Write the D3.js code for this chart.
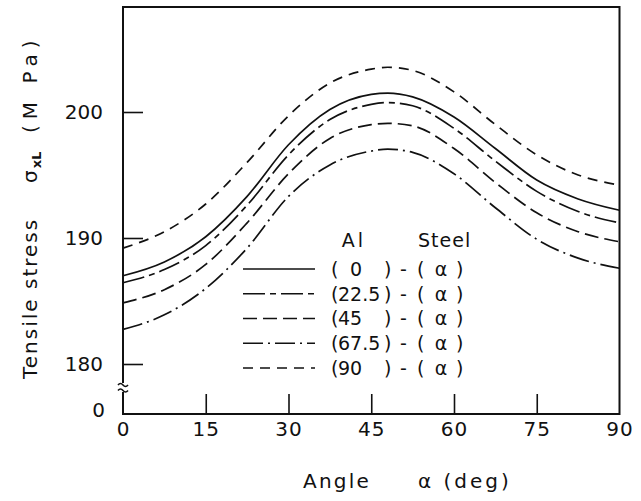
<!DOCTYPE html>
<html>
<head>
<meta charset="utf-8">
<script src="https://cdn.jsdelivr.net/npm/d3@7"></script>
<style>
  html, body { margin: 0; padding: 0; background: #fff; }
  svg { display: block; }
  text { font-family: "DejaVu Sans", sans-serif; fill: #111; }
</style>
</head>
<body>
<svg id="chart" width="641" height="501"></svg>
<script>
// Angle of the steel layer (deg)
const alpha = [0, 7.5, 15, 22.5, 30, 37.5, 45, 48, 52.5, 60, 67.5, 75, 82.5, 90];

// Tensile stress σxL (MPa) for each Al fibre angle
const al0    = [187.0, 188.1, 190.1, 193.3, 197.4, 200.2, 201.4, 201.5, 201.2, 199.6, 197.1, 194.6, 193.1, 192.2];
const al22_5 = [186.45, 187.5, 189.4, 192.6, 196.6, 199.4, 200.6, 200.75, 200.5, 198.7, 196.1, 193.7, 192.1, 191.2];
const al45   = [184.85, 185.9, 187.9, 191.2, 195.1, 197.9, 199.0, 199.1, 198.9, 197.1, 194.4, 192.0, 190.5, 189.7];
const al67_5 = [182.75, 183.9, 186.0, 189.2, 193.3, 195.8, 196.9, 197.05, 196.8, 195.1, 192.4, 189.9, 188.4, 187.6];
const al90   = [189.2, 190.5, 192.7, 196.0, 199.7, 202.3, 203.4, 203.55, 203.3, 201.6, 199.0, 196.6, 195.0, 194.2];

const seriesNames = ["0", "22.5", "45", "67.5", "90"];
const seriesValues = [al0, al22_5, al45, al67_5, al90];
const dashes = ["none", "22,5,6,5", "14,6", "20,5,2,5", "10,7"];

const xTicks = [0, 15, 30, 45, 60, 75, 90];
const yTicks = [180, 190, 200];

const svg = d3.select("#chart");

const x = d3.scaleLinear().domain([0, 90]).range([123, 619.5]);
const y = d3.scaleLinear().domain([180, 200]).range([364, 112]);

const plotTop = 7, plotBottom = 414;
const plotLeft = x(0), plotRight = x(90);

// Frame with a broken left axis between 180 and 0
const frame = svg.append("g").attr("fill", "none").attr("stroke", "#111").attr("stroke-width", 2);
frame.append("path").attr("d", `M${plotLeft},383 V${plotTop} H${plotRight} V${plotBottom} H${plotLeft} V392`);
// break symbol
frame.append("path").attr("stroke-width", 1.6)
  .attr("d", `M${plotLeft - 5},385 q2.5,-3 5,0 t5,0 M${plotLeft - 5},390.5 q2.5,-3 5,0 t5,0`);

// Axes: inward ticks
const xAxis = d3.axisBottom(x).tickValues(xTicks).tickSize(-20).tickPadding(8).tickFormat(d3.format("d"));
const gx = svg.append("g").attr("transform", `translate(0,${plotBottom})`).call(xAxis);
gx.select(".domain").remove();
gx.selectAll(".tick line").attr("stroke", "#111").attr("stroke-width", 1.6)
  .filter(d => d === 0 || d === 90).remove();
gx.selectAll(".tick text").attr("font-size", 20).attr("font-family", "DejaVu Sans").attr("fill", "#111")
  .attr("letter-spacing", 1);

const yAxis = d3.axisLeft(y).tickValues(yTicks).tickSize(-20).tickPadding(20);
const gy = svg.append("g").attr("transform", `translate(${plotLeft},0)`).call(yAxis);
gy.select(".domain").remove();
gy.selectAll(".tick line").attr("stroke", "#111").attr("stroke-width", 1.6);
gy.selectAll(".tick text").attr("font-size", 20).attr("font-family", "DejaVu Sans").attr("fill", "#111");

// origin of the broken axis
svg.append("text").attr("x", plotLeft - 18).attr("y", plotBottom - 3).attr("dy", "0.32em")
  .attr("text-anchor", "end").attr("font-size", 20).text("0");

// Curves
const line = d3.line().x((d, i) => x(alpha[i])).y(d => y(d)).curve(d3.curveMonotoneX);
svg.append("g").selectAll("path").data(seriesValues).join("path")
  .attr("d", d => line(d))
  .attr("fill", "none").attr("stroke", "#111").attr("stroke-width", 1.7)
  .attr("stroke-dasharray", (d, i) => dashes[i]);

// Legend
const lg = svg.append("g");
lg.append("text").attr("x", 354).attr("y", 247).attr("text-anchor", "middle").attr("font-size", 19)
  .attr("letter-spacing", 3).text("Al");
lg.append("text").attr("x", 418).attr("y", 247).attr("font-size", 19).attr("letter-spacing", 1).text("Steel");

const rowY = d3.scaleLinear().domain([0, 4]).range([269, 368]);
seriesNames.forEach((name, i) => {
  const cy = rowY(i);
  lg.append("line").attr("x1", 243).attr("x2", 315).attr("y1", cy).attr("y2", cy)
    .attr("stroke", "#111").attr("stroke-width", 1.7).attr("stroke-dasharray", dashes[i]);
  const t = (tx, s, anchor) => lg.append("text").attr("x", tx).attr("y", cy).attr("dy", "0.36em")
    .attr("font-size", 19).attr("text-anchor", anchor || "start").text(s);
  t(331, "(");
  if (name === "0") t(356, name, "middle"); else t(338, name);
  t(384, ")");
  t(400, "-");
  t(417, "(");
  t(441, "α", "middle");
  t(456, ")");
});

// Axis titles
const xt = svg.append("text").attr("y", 488).attr("font-size", 20);
xt.append("tspan").attr("x", 303).attr("letter-spacing", 2.2).text("Angle");
xt.append("tspan").attr("x", 418).attr("letter-spacing", 3).text("α (deg)");

const yt = svg.append("text").attr("transform", "translate(37,379) rotate(-90)")
  .attr("font-size", 20).attr("letter-spacing", 2);
yt.append("tspan").text("Tensile stress");
yt.append("tspan").attr("x", 196).text("σ");
yt.append("tspan").attr("font-size", 13).attr("font-weight", "bold").attr("dy", 4).attr("letter-spacing", 0).text("xL");
yt.append("tspan").attr("dy", -4).attr("x", 246).attr("letter-spacing", 6).text("(M Pa)");
</script>
</body>
</html>
